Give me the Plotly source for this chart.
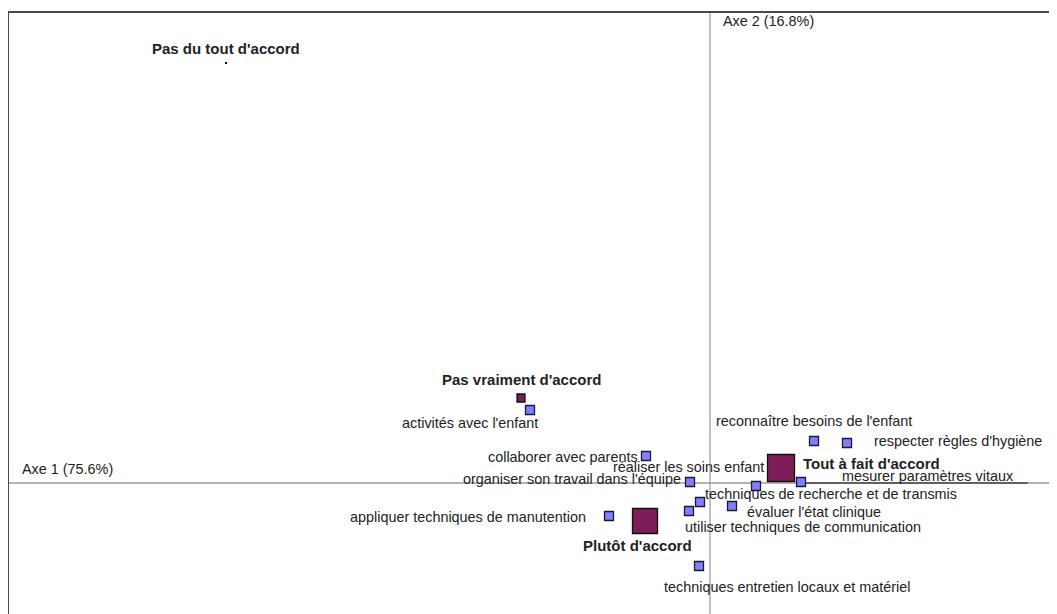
import plotly.graph_objects as go

# ---- Data: correspondence analysis coordinates (Axe 1, Axe 2) ----
row_labels = ["Pas du tout d'accord", "Pas vraiment d'accord", "Plutôt d'accord", "Tout à fait d'accord"]
row_x = [-2.42, -0.945, -0.325, 0.355]
row_y = [2.10, 0.425, -0.19, 0.075]
row_mass = [1, 9, 26, 28]

col_labels = [
    "activités avec l'enfant",
    "collaborer avec parents",
    "réaliser les soins enfant",
    "organiser son travail dans l'équipe",
    "reconnaître besoins de l'enfant",
    "respecter règles d'hygiène",
    "mesurer paramètres vitaux",
    "techniques de recherche et de transmis",
    "évaluer l'état clinique",
    "utiliser techniques de communication",
    "appliquer techniques de manutention",
    "techniques entretien locaux et matériel",
]
col_x = [-0.90, -0.32, 0.23, -0.10, 0.52, 0.685, 0.455, -0.05, 0.11, -0.105, -0.505, -0.055]
col_y = [0.365, 0.135, -0.015, 0.005, 0.21, 0.20, 0.005, -0.095, -0.115, -0.14, -0.165, -0.415]

axis1_title = "Axe 1 (75.6%)"
axis2_title = "Axe 2 (16.8%)"

# ---- Layout constants ----
BODY = 8                 # default page body margin
W, H = 1057, 614
ML, MT = 0, 4            # so that frame sits at screen (8, 12)
PX_PER_UNIT = 200.0
ORIGIN_SCREEN = (710, 483)
left_s, top_s = BODY + ML, BODY + MT
right_s, bottom_s = BODY + W, BODY + H
x_range = [(left_s - ORIGIN_SCREEN[0]) / PX_PER_UNIT, (right_s - ORIGIN_SCREEN[0]) / PX_PER_UNIT]
y_range = [(ORIGIN_SCREEN[1] - bottom_s) / PX_PER_UNIT, (ORIGIN_SCREEN[1] - top_s) / PX_PER_UNIT]

# label placement: (xanchor, dx px, dy px (screen, down positive))
row_label_pos = [("center", 0, -15), ("center", 0, -19), ("center", -8, 24), ("left", 20, -5)]
col_label_pos = [
    ("right", 10, 13),
    ("right", -6, 1),
    ("right", 10, -19),
    ("right", -7, -3),
    ("left", -100, -20),
    ("left", 25, -2),
    ("left", 39, -6),
    ("left", 3, -8),
    ("left", 13, 6),
    ("left", -6, 16),
    ("right", -21, 1),
    ("left", -37, 21),
]

TEXT = "#222222"
FONT = "Liberation Sans, Arial, sans-serif"
FS = 14.4
FSB = 15

fig = go.Figure()

# leader line for "mesurer paramètres vitaux"
mi = col_labels.index("mesurer paramètres vitaux")
fig.add_shape(type="line", xref="x", yref="y",
              x0=col_x[mi] + 5 / PX_PER_UNIT, x1=col_x[mi] + 227 / PX_PER_UNIT,
              y0=col_y[mi] - 1 / PX_PER_UNIT, y1=col_y[mi] - 1 / PX_PER_UNIT,
              line=dict(color="#444444", width=1.5), layer="below")

# axes lines
fig.add_shape(type="line", xref="paper", yref="y", x0=0, x1=1, y0=0, y1=0,
              line=dict(color="#9a9a9a", width=1.5), layer="below")
fig.add_shape(type="line", xref="x", yref="paper", x0=0, x1=0, y0=0, y1=1,
              line=dict(color="#9a9a9a", width=1.2), layer="below")

# frame (top and left)
fig.add_shape(type="line", xref="paper", yref="paper", x0=0, x1=1, y0=1, y1=1,
              line=dict(color="#4a4a4a", width=2))
fig.add_shape(type="line", xref="paper", yref="paper", x0=0, x1=0, y0=0, y1=1,
              line=dict(color="#4a4a4a", width=2))

# column points
fig.add_trace(go.Scatter(
    x=col_x, y=col_y, mode="markers",
    marker=dict(symbol="square", size=9, color="#8080ff", opacity=1,
                line=dict(color="#1a1a2e", width=1.3)),
    hovertext=col_labels, hoverinfo="text", showlegend=False))

# row points
row_sizes = [2 if m <= 1 else m - 1 for m in row_mass]
row_colors = ["#000000" if m <= 1 else "#7d1e5a" for m in row_mass]
fig.add_trace(go.Scatter(
    x=row_x, y=row_y, mode="markers",
    marker=dict(symbol="square", size=row_sizes, color=row_colors, opacity=1,
                line=dict(color="#111111", width=[0 if m <= 1 else 1.3 for m in row_mass])),
    hovertext=row_labels, hoverinfo="text", showlegend=False))

# labels
for lab, x, y, (anc, dx, dy) in zip(row_labels, row_x, row_y, row_label_pos):
    fig.add_annotation(x=x, y=y, xref="x", yref="y", text="<b>%s</b>" % lab,
                       showarrow=False, xanchor=anc, yanchor="middle",
                       xshift=dx, yshift=-dy,
                       font=dict(family=FONT, size=FSB, color=TEXT))
for lab, x, y, (anc, dx, dy) in zip(col_labels, col_x, col_y, col_label_pos):
    fig.add_annotation(x=x, y=y, xref="x", yref="y", text=lab,
                       showarrow=False, xanchor=anc, yanchor="middle",
                       xshift=dx, yshift=-dy,
                       font=dict(family=FONT, size=FS, color=TEXT))

# axis titles
fig.add_annotation(x=(20 - left_s) / W, y=0, xref="paper", yref="y",
                   text=axis1_title, showarrow=False, xanchor="left", yanchor="middle",
                   yshift=14, font=dict(family=FONT, size=FS, color=TEXT))
fig.add_annotation(x=0, y=1 - (21 - top_s) / (H - MT), xref="x", yref="paper",
                   text=axis2_title, showarrow=False, xanchor="left", yanchor="middle",
                   xshift=11, font=dict(family=FONT, size=FS, color=TEXT))

fig.update_layout(
    width=W, height=H,
    margin=dict(l=ML, r=0, t=MT, b=0),
    paper_bgcolor="white", plot_bgcolor="white",
    xaxis=dict(range=x_range, visible=False, showgrid=False, zeroline=False, fixedrange=True),
    yaxis=dict(range=y_range, visible=False, showgrid=False, zeroline=False, fixedrange=True),
    showlegend=False,
)

fig.write_html("out.html")
